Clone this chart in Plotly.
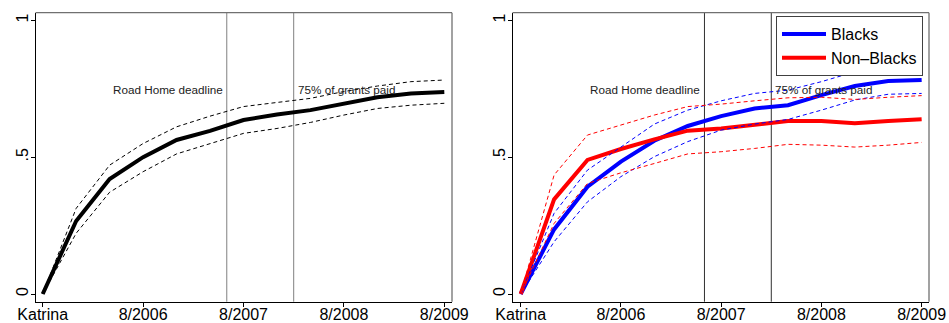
import plotly.graph_objects as go

months = [0, 4, 8, 12, 16, 20, 24, 28, 32, 36, 40, 44, 48]
tick_vals = [0, 12, 24, 36, 48]
tick_text = ["Katrina", "8/2006", "8/2007", "8/2008", "8/2009"]
y_tick_vals = [0, 0.5, 1]
y_tick_text = ["0", ".5", "1"]
event_months = [22, 30]
event_labels = ["Road Home deadline", "75% of grants paid"]

all_mean = [0, 0.267, 0.42, 0.50, 0.563, 0.596, 0.636, 0.656, 0.672, 0.697, 0.719, 0.733, 0.738]
all_upper = [0, 0.313, 0.471, 0.55, 0.611, 0.65, 0.685, 0.70, 0.715, 0.74, 0.76, 0.776, 0.782]
all_lower = [0, 0.222, 0.372, 0.447, 0.512, 0.55, 0.587, 0.605, 0.627, 0.654, 0.678, 0.69, 0.697]

black_mean = [0, 0.236, 0.392, 0.484, 0.56, 0.614, 0.650, 0.678, 0.69, 0.727, 0.76, 0.778, 0.782]
black_upper = [0, 0.295, 0.453, 0.538, 0.621, 0.672, 0.706, 0.733, 0.745, 0.776, 0.812, 0.827, 0.831]
black_lower = [0, 0.191, 0.337, 0.429, 0.502, 0.557, 0.599, 0.621, 0.638, 0.672, 0.709, 0.73, 0.733]

nonblack_mean = [0, 0.346, 0.49, 0.53, 0.565, 0.597, 0.605, 0.617, 0.632, 0.632, 0.624, 0.632, 0.639]
nonblack_upper = [0, 0.435, 0.581, 0.617, 0.654, 0.685, 0.694, 0.706, 0.717, 0.719, 0.711, 0.719, 0.725]
nonblack_lower = [0, 0.258, 0.404, 0.443, 0.477, 0.512, 0.52, 0.532, 0.547, 0.544, 0.537, 0.544, 0.554]

W, H = 949, 323
FONT = "Liberation Sans, Arial, sans-serif"
DASH = "4px,3px"

fig = go.Figure()

# Left panel
fig.add_trace(go.Scatter(x=months, y=all_upper, mode="lines", showlegend=False,
                         line=dict(color="black", width=1, dash=DASH), xaxis="x", yaxis="y"))
fig.add_trace(go.Scatter(x=months, y=all_lower, mode="lines", showlegend=False,
                         line=dict(color="black", width=1, dash=DASH), xaxis="x", yaxis="y"))
fig.add_trace(go.Scatter(x=months, y=all_mean, mode="lines", showlegend=False,
                         line=dict(color="black", width=4), xaxis="x", yaxis="y"))

# Right panel
fig.add_trace(go.Scatter(x=months, y=black_mean, mode="lines", name="Blacks",
                         line=dict(color="#0000ff", width=4), xaxis="x2", yaxis="y2"))
fig.add_trace(go.Scatter(x=months, y=nonblack_mean, mode="lines", name="Non\u2013Blacks",
                         line=dict(color="#ff0000", width=4), xaxis="x2", yaxis="y2"))
for ser, col in [(black_upper, "#0000ff"), (black_lower, "#0000ff"),
                 (nonblack_upper, "#ff0000"), (nonblack_lower, "#ff0000")]:
    fig.add_trace(go.Scatter(x=months, y=ser, mode="lines", showlegend=False,
                             line=dict(color=col, width=1, dash=DASH), xaxis="x2", yaxis="y2"))

ydom = [1 - 301.7 / H, 1 - 12.7 / H]
yrange = [-0.028, 1.028]

def xaxis(dom, rng, anchor):
    return dict(domain=dom, range=rng, anchor=anchor, tickmode="array", tickvals=tick_vals,
                ticktext=tick_text, ticks="outside", ticklen=4, tickcolor="black",
                showline=True, linecolor="black", linewidth=1, showgrid=False, zeroline=False,
                automargin=False, ticklabelstandoff=-6,
                tickfont=dict(family=FONT, size=16, color="black"))

def yaxis(anchor):
    return dict(domain=ydom, range=yrange, anchor=anchor, tickmode="array", tickvals=y_tick_vals,
                ticktext=y_tick_text, ticks="outside", ticklen=4, tickcolor="black", tickangle=-90,
                showline=True, linecolor="black", linewidth=1, showgrid=False, zeroline=False,
                automargin=False, ticklabelstandoff=-4,
                tickfont=dict(family=FONT, size=16, color="black"))

shapes = []
annotations = []
for xa, ya, vcol in [("x", "y", "#808080"), ("x2", "y2", "#303030")]:
    shapes.append(dict(type="line", xref=xa + " domain", yref=ya + " domain", x0=0, x1=1, y0=1, y1=1,
                       line=dict(color="#707070", width=1.3)))
    shapes.append(dict(type="line", xref=xa + " domain", yref=ya + " domain", x0=1, x1=1, y0=0, y1=1,
                       line=dict(color="#707070", width=1.3)))
    for m in event_months:
        shapes.append(dict(type="line", xref=xa, yref=ya + " domain", x0=m, x1=m, y0=0, y1=1,
                           layer="below", line=dict(color=vcol, width=1)))
    annotations.append(dict(x=event_months[0], y=0.748, xref=xa, yref=ya, text=event_labels[0],
                            showarrow=False, xanchor="right", yanchor="middle", xshift=-2,
                            font=dict(family=FONT, size=11.7, color="#222222")))
    annotations.append(dict(x=event_months[1], y=0.748, xref=xa, yref=ya, text=event_labels[1],
                            showarrow=False, xanchor="left", yanchor="middle", xshift=2,
                            font=dict(family=FONT, size=11.7, color="#222222")))

fig.update_layout(
    width=W, height=H,
    margin=dict(l=0, r=0, t=0, b=0, pad=0, autoexpand=False),
    paper_bgcolor="white", plot_bgcolor="white",
    xaxis=xaxis([35.5 / W, 452 / W], [-0.86, 48.92], "y"),
    yaxis=yaxis("x"),
    xaxis2=xaxis([512.5 / W, 929 / W], [-0.98, 48.88], "y2"),
    yaxis2=yaxis("x2"),
    shapes=shapes,
    annotations=annotations,
    legend=dict(x=776 / W, y=1 - 16 / H, xanchor="left", yanchor="top",
                bgcolor="white", bordercolor="#404040", borderwidth=1,
                font=dict(family=FONT, size=16, color="black"), itemwidth=44),
    showlegend=True,
)

fig.write_html(
    "out.html",
    config={"displayModeBar": False},
    post_script="document.body.style.margin='0';document.body.style.overflow='hidden';",
)
